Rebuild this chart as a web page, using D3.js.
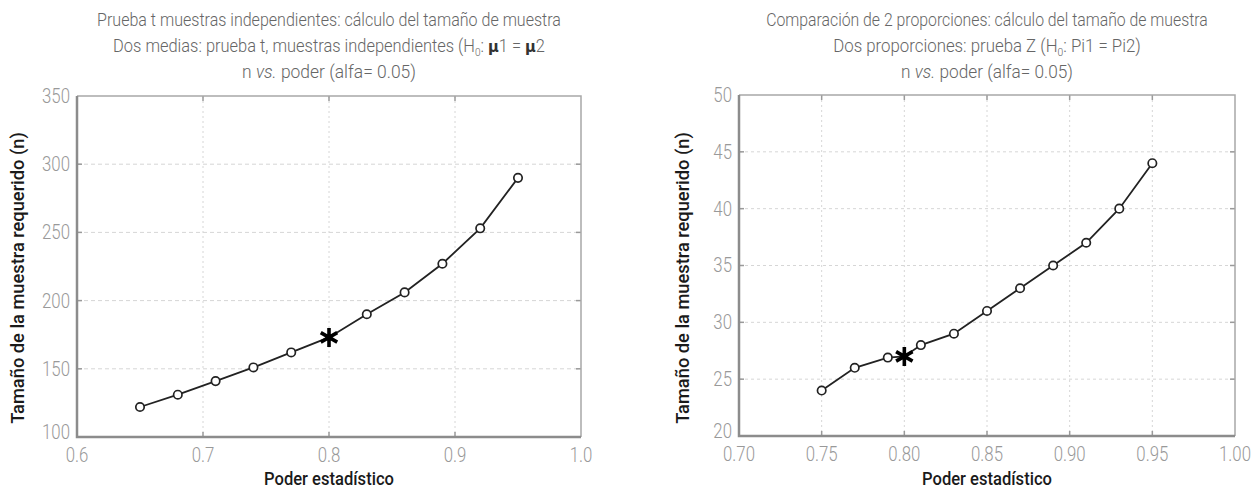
<!DOCTYPE html>
<html><head><meta charset="utf-8">
<script src="https://cdn.jsdelivr.net/npm/d3@7"></script>
<style>
body{margin:0;background:#fff;}
svg{display:block;font-family:Roboto,'Liberation Sans',sans-serif;}
</style></head>
<body><svg id="c" width="1259" height="491"></svg>
<script>
// ---- data ----
const leftPower = [0.65,0.68,0.71,0.74,0.77,0.83,0.86,0.89,0.92,0.95];
const leftN     = [122,131,141,151,162,190,206,227,253,290];
const leftStar  = [0.80,173];
const leftXTicks = [0.6,0.7,0.8,0.9,1.0];
const leftYTicks = [100,150,200,250,300,350];

const rightPower = [0.75,0.77,0.79,0.81,0.83,0.85,0.87,0.89,0.91,0.93,0.95];
const rightN     = [24,26,26.9,28,29,31,33,35,37,40,44];
const rightStar  = [0.80,27];
const rightXTicks = [0.70,0.75,0.80,0.85,0.90,0.95,1.00];
const rightYTicks = [20,25,30,35,40,45,50];

const svg = d3.select('#c');

// horizontally condense a text around its anchor x
function squeezeTo(sel, target, ax){
  const w = sel.node().getBBox().width;
  const k = target / w;
  sel.attr('transform', `translate(${ax},0) scale(${k},1) translate(${-ax},0)`);
}
function squeezeK(sel, k, ax){
  sel.attr('transform', `translate(${ax},0) scale(${k},1) translate(${-ax},0)`);
}

function panel(o){
  const g = svg.append('g');
  const x = d3.scaleLinear().domain(o.xd).range([o.x0,o.x1]);
  const y = d3.scaleLinear().domain(o.yd).range([o.y1,o.y0]);
  // grid
  g.append('g').selectAll('line').data(o.xt.slice(1,-1)).join('line')
    .attr('x1',d=>x(d)).attr('x2',d=>x(d)).attr('y1',o.y0).attr('y2',o.y1)
    .attr('stroke','#d6d6d6').attr('stroke-width',1).attr('stroke-dasharray',o.vdash);
  g.append('g').selectAll('line').data(o.yt.slice(1,-1)).join('line')
    .attr('y1',d=>y(d)).attr('y2',d=>y(d)).attr('x1',o.x0).attr('x2',o.x1)
    .attr('stroke','#d6d6d6').attr('stroke-width',1).attr('stroke-dasharray',o.hdash);
  // inner ticks on all sides
  const tk = g.append('g').attr('stroke','#9a9a9a').attr('stroke-width',1.5);
  o.xt.slice(1,-1).forEach(d=>{
    tk.append('line').attr('x1',x(d)).attr('x2',x(d)).attr('y1',o.y1).attr('y2',o.y1-5);
    tk.append('line').attr('x1',x(d)).attr('x2',x(d)).attr('y1',o.y0).attr('y2',o.y0+5);
  });
  o.yt.slice(1,-1).forEach(d=>{
    tk.append('line').attr('y1',y(d)).attr('y2',y(d)).attr('x1',o.x0).attr('x2',o.x0+5);
    tk.append('line').attr('y1',y(d)).attr('y2',y(d)).attr('x1',o.x1).attr('x2',o.x1-5);
  });
  // frame
  g.append('path').attr('d',`M${o.x0},${o.y0}H${o.x1}V${o.y1}`).attr('fill','none')
    .attr('stroke','#a8a8a8').attr('stroke-width',1.5);
  g.append('path').attr('d',`M${o.x0},${o.y0}V${o.y1}H${o.x1}`).attr('fill','none')
    .attr('stroke','#8c8c8c').attr('stroke-width',2.5);
  // tick labels
  g.append('g').selectAll('text').data(o.xt).join('text')
    .attr('x',d=>x(d)).attr('y',o.y1+25).attr('text-anchor','middle')
    .attr('font-size',20.5).attr('font-weight',300).attr('fill','#999').text(d=>d3.format(o.xf)(d))
    .each(function(d){squeezeK(d3.select(this),0.82,x(d));});
  g.append('g').selectAll('text').data(o.yt).join('text')
    .attr('x',o.x0-7).attr('y',d=>y(d)+7 - (d===o.yd[0]?5:0)).attr('text-anchor','end')
    .attr('font-size',20.5).attr('font-weight',300).attr('fill','#999').text(d=>d)
    .each(function(){squeezeK(d3.select(this),0.82,o.x0-7);});
  // axis titles
  const cx=(o.x0+o.x1)/2;
  const xt = g.append('text').attr('x',cx).attr('y',485).attr('text-anchor','middle')
    .attr('font-size',18).attr('font-weight',500).attr('fill','#1a1a1a').text('Poder estadístico');
  squeezeTo(xt,130,cx);
  const yc = 278;
  const yg = g.append('g').attr('transform',`translate(${o.ytx},${yc}) rotate(-90)`);
  const yt = yg.append('text').attr('x',0).attr('y',0).attr('text-anchor','middle')
    .attr('font-size',19).attr('font-weight',500).attr('fill','#1a1a1a')
    .text('Tamaño de la muestra requerido (n)');
  squeezeTo(yt,292,0);
  // line
  const pts = o.px.map((d,i)=>[d,o.pn[i]]);
  const all = pts.concat([o.star]).sort((a,b)=>a[0]-b[0]);
  g.append('path').attr('d',d3.line().x(d=>x(d[0])).y(d=>y(d[1]))(all))
    .attr('fill','none').attr('stroke','#222').attr('stroke-width',1.8);
  g.append('g').selectAll('circle').data(pts).join('circle')
    .attr('cx',d=>x(d[0])).attr('cy',d=>y(d[1])).attr('r',4.2)
    .attr('fill','#fff').attr('stroke','#222').attr('stroke-width',1.7);
  // star (6-arm asterisk)
  const sx=x(o.star[0]), sy=y(o.star[1]), r=9.5;
  let dd='';
  [90,30,150].forEach(a=>{const t=a*Math.PI/180;
    dd+=`M${sx+r*Math.cos(t)},${sy-r*Math.sin(t)}L${sx-r*Math.cos(t)},${sy+r*Math.sin(t)}`;});
  g.append('path').attr('d',dd).attr('stroke','#000').attr('stroke-width',3.6).attr('fill','none');
  // titles
  const tattr = s=>s.attr('text-anchor','middle').attr('font-size',18).attr('font-weight',300).attr('fill','#666');
  const t1 = tattr(g.append('text').attr('x',cx).attr('y',26)).text(o.t1);
  squeezeTo(t1,o.w[0],cx);
  const t2 = tattr(g.append('text').attr('x',cx).attr('y',52));
  o.t2.forEach(p=>{
    const s=t2.append('tspan').text(p.s);
    if(p.sub){s.attr('dy',4).attr('font-size',11);}
    if(p.after){s.attr('dy',-4);}
    if(p.b){s.attr('font-weight','bold').attr('fill','#333').attr('font-family','DejaVu Sans').attr('font-size',16);}
  });
  squeezeTo(t2,o.w[1],cx);
  const t3 = tattr(g.append('text').attr('x',cx).attr('y',78));
  t3.append('tspan').text('n ');
  t3.append('tspan').attr('font-style','italic').text('vs.');
  t3.append('tspan').text(' poder (alfa= 0.05)');
  squeezeTo(t3,o.w[2],cx);
}

panel({x0:77,x1:581,y0:96,y1:437,xd:[0.6,1.0],yd:[100,350],xt:leftXTicks,yt:leftYTicks,xf:'.1f',
  px:leftPower,pn:leftN,star:leftStar,ytx:24,vdash:'2,3',hdash:'4,3',w:[464,432,174],
  t1:'Prueba t muestras independientes: cálculo del tamaño de muestra',
  t2:[{s:'Dos medias: prueba t, muestras independientes (H'},{s:'0',sub:1},{s:': ',after:1},{s:'μ',b:1},{s:'1 = '},{s:'μ',b:1},{s:'2'}]});
panel({x0:739,x1:1235,y0:95,y1:436,xd:[0.70,1.00],yd:[20,50],xt:rightXTicks,yt:rightYTicks,xf:'.2f',
  px:rightPower,pn:rightN,star:rightStar,ytx:689,vdash:'2,3',hdash:'3,3',w:[442,308,172],
  t1:'Comparación de 2 proporciones: cálculo del tamaño de muestra',
  t2:[{s:'Dos proporciones: prueba Z (H'},{s:'0',sub:1},{s:': Pi1 = Pi2)',after:1}]});
</script></body></html>
